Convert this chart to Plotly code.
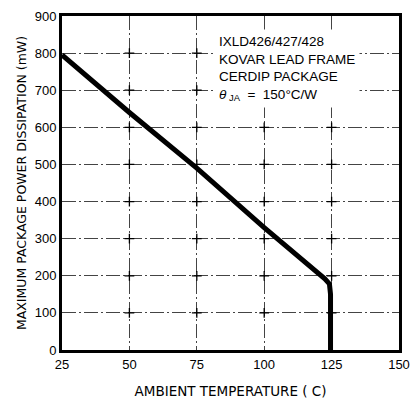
import plotly.graph_objects as go

# Derating curve
temp_c = [25, 50, 75, 100, 122.5, 124.2, 124.6, 124.6]
power_mw = [795, 640, 490, 330, 192, 178, 150, 0]

x_ticks = [25, 50, 75, 100, 125, 150]
y_ticks = [0, 100, 200, 300, 400, 500, 600, 700, 800, 900]

note_lines = ["IXLD426/427/428", "KOVAR LEAD FRAME", "CERDIP PACKAGE",
              "<i>θ</i><sub> JA</sub>  =  150°C/W"]

FONT = "Liberation Sans, Arial, sans-serif"

fig = go.Figure()

# small crosses at grid intersections
gx, gy = [], []
for xv in x_ticks[1:-1]:
    for yv in y_ticks[1:-1]:
        gx.append(xv)
        gy.append(yv)
fig.add_trace(go.Scatter(x=gx, y=gy, mode="markers",
                         marker=dict(symbol="cross-thin", size=7,
                                     line=dict(color="black", width=1.3)),
                         hoverinfo="skip", showlegend=False))

fig.add_trace(go.Scatter(x=temp_c, y=power_mw, mode="lines",
                         line=dict(color="black", width=5),
                         showlegend=False))

fig.add_annotation(xref="paper", yref="paper", x=0.452, y=0.96,
                   xanchor="left", yanchor="top", align="left",
                   text="<br>".join(note_lines), showarrow=False,
                   bgcolor="white", borderpad=4,
                   font=dict(family=FONT, size=13.5, color="black"))

axis_common = dict(showline=True, linecolor="black", linewidth=3, mirror=True,
                   showgrid=True, gridcolor="#444444", gridwidth=1,
                   griddash="14px,3px,2px,3px", zeroline=False,
                   ticks="", tickfont=dict(family=FONT, size=13, color="black"))

fig.update_xaxes(range=[25, 150], tickvals=x_ticks,
                 title=dict(text="AMBIENT TEMPERATURE ( C)", standoff=16,
                            font=dict(family="DejaVu Sans, sans-serif", size=13.5, color="black")),
                 **axis_common)
fig.update_yaxes(range=[0, 900], tickvals=y_ticks,
                 title=dict(text="MAXIMUM PACKAGE POWER DISSIPATION (mW)", standoff=6,
                            font=dict(family="DejaVu Sans, sans-serif", size=12.5, color="black")),
                 **axis_common)

fig.update_layout(width=419, height=406,
                  margin=dict(l=62, r=9, t=13, b=47),
                  paper_bgcolor="white", plot_bgcolor="white")

fig.write_html("out.html")
